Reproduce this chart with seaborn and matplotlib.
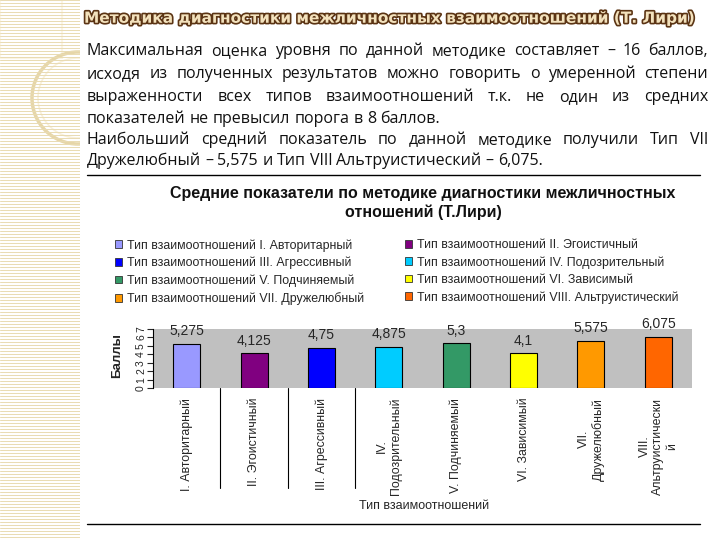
import numpy as np
import pandas as pd
import matplotlib
matplotlib.use('Agg')
import matplotlib.pyplot as plt
import matplotlib.patheffects as pe
import matplotlib.transforms as mtransforms
from matplotlib.font_manager import FontProperties
from matplotlib.lines import Line2D
from matplotlib.patches import Patch, Circle, Rectangle
import seaborn as sns

# slide texts
slide_title = 'Методика диагностики межличностных взаимоотношений (Т. Лири)'
paragraph_lines = [
    'Максимальная оценка уровня по данной методике составляет – 16 баллов,',
    'исходя из полученных результатов можно говорить о умеренной степени',
    'выраженности всех типов взаимоотношений т.к. не один из средних',
    'показателей не превысил порога в 8 баллов.',
    'Наибольший средний показатель по данной методике получили Тип VII',
    'Дружелюбный – 5,575 и Тип VIII Альтруистический – 6,075.',
]
line_justified = [True, True, True, False, True, False]

# chart data
chart_title = 'Средние показатели по методике диагностики межличностных\nотношений (Т.Лири)'
type_labels = ['I. Авторитарный', 'II. Эгоистичный', 'III. Агрессивный',
               'IV.\nПодозрительный', 'V. Подчиняемый', 'VI. Зависимый',
               'VII.\nДружелюбный', 'VIII.\nАльтруистически\nй']
legend_labels = ['Тип взаимоотношений I. Авторитарный',
                 'Тип взаимоотношений II. Эгоистичный',
                 'Тип взаимоотношений III. Агрессивный',
                 'Тип взаимоотношений IV. Подозрительный',
                 'Тип взаимоотношений V. Подчиняемый',
                 'Тип взаимоотношений VI. Зависимый',
                 'Тип взаимоотношений VII. Дружелюбный',
                 'Тип взаимоотношений VIII. Альтруистический']
scores = [5.275, 4.125, 4.75, 4.875, 5.3, 4.1, 5.575, 6.075]
bar_colors = ['#9999ff', '#800080', '#0000ff', '#00ccff',
              '#339966', '#ffff00', '#ff9900', '#ff6600']
y_ticks = [0, 1, 2, 3, 4, 5, 6, 7]

sns.set_style('white')
plt.rcParams['font.family'] = ['Liberation Sans', 'DejaVu Sans']

W, H = 720, 540
fig = plt.figure(figsize=(7.2, 5.4), dpi=100)
fig.patch.set_facecolor('white')

def fx(px):
    return px / W

def fy(py):
    return 1 - py / H

# beige strip on the left
deco = fig.add_axes([0, 0, fx(80), 1])
deco.set_xlim(0, 80)
deco.set_ylim(540, 0)
deco.set_facecolor('#f3e9cd')
for yy in np.arange(0, 540, 3):
    deco.axhline(yy, color='#e9dbb2', lw=0.7)
deco.add_patch(Rectangle((0, 0), 62, 58, fill=False, ec='#fbf5e4', lw=1.5))
deco.add_patch(Circle((78, 98), 46, fill=False, ec='#e6d6a8', lw=2.5))
deco.add_patch(Circle((78, 98), 40, fill=False, ec='#f8f0da', lw=1.2))
deco.axis('off')

renderer = fig.canvas.get_renderer()

def text_width(s, size, family):
    t = fig.text(0, 0, s, fontsize=size, family=family)
    w = t.get_window_extent(renderer).width
    t.remove()
    return w

# slide title, stretched to the reference width
title = fig.text(fx(84), fy(18), slide_title, ha='left', va='center',
                 fontsize=11, fontweight='bold', color='#f3e2bd', family='DejaVu Sans',
                 path_effects=[pe.withStroke(linewidth=2.4, foreground='#5b3414')])
tw = title.get_window_extent(renderer).width
title.set_fontsize(11 * 608 / tw)

# paragraph, one text per word, justified by hand
para_font = 'Open Sans'
para_size = 10 * 352 / text_width(paragraph_lines[3], 10, para_font)
para_prop = FontProperties(family=para_font, size=para_size)
_, lp_h, lp_d = renderer.get_text_width_height_descent('lp', para_prop, ismath=False)
space_w = text_width('a a', para_size, para_font) - text_width('aa', para_size, para_font)
x_left, x_right = 87, 708
line_y = [55, 78, 101, 123, 144, 165]
for line, yy, just in zip(paragraph_lines, line_y, line_justified):
    words = line.split()
    widths = [text_width(w, para_size, para_font) for w in words]
    if just and len(words) > 1:
        gap = (x_right - x_left - sum(widths)) / (len(words) - 1)
    else:
        gap = space_w
    cur = x_left
    for w, wd in zip(words, widths):
        # short words with a low descender get laid out a bit high: push them back
        _, h, d = renderer.get_text_width_height_descent(w, para_prop, ismath=False)
        shift = d - lp_d if (d > lp_d and h < lp_h) else 0
        fig.text(fx(cur), fy(yy + shift), w, fontsize=para_size, family=para_font,
                 va='baseline', ha='left', color='#111111')
        cur += wd + gap

# separator lines
fig.add_artist(Line2D([fx(87), fx(700)], [fy(175), fy(175)], color='black', lw=1))
fig.add_artist(Line2D([fx(87), fx(700)], [fy(524), fy(524)], color='black', lw=1))

# chart title
fig.text(fx(423), fy(203), chart_title, ha='center', va='center',
         fontsize=11.5, fontweight='bold', linespacing=1.3, color='#111111')

# legend, two columns
handles = [Patch(facecolor=c, edgecolor='#333333', lw=0.6, label=l)
           for c, l in zip(bar_colors, legend_labels)]
for col, x0 in ((0, 115), (1, 405)):
    fig.legend(handles=handles[col::2], loc='upper left',
               bbox_to_anchor=(fx(x0), fy(239)), frameon=False, fontsize=8.9,
               handlelength=0.6, handleheight=0.6, handletextpad=0.4,
               labelspacing=0.42, borderpad=0, borderaxespad=0)

# bar chart
ax = fig.add_axes([fx(153), fy(388), fx(692) - fx(153), fy(329) - fy(388)])
df = pd.DataFrame({'type': type_labels, 'score': scores})
sns.barplot(data=df, x='type', y='score', hue='type', palette=bar_colors,
            saturation=1, width=0.4, edgecolor='black', linewidth=0.8,
            legend=False, ax=ax)
ax.set_facecolor('#c0c0c0')
ax.set_ylim(0, 7)
ax.set_yticks(y_ticks)
ax.set_yticklabels([str(t) for t in y_ticks], rotation=90, fontsize=7.5,
                   va='center')
ax.tick_params(axis='y', length=4, width=0.8, pad=1, left=True)
ax.tick_params(axis='x', length=0, pad=7, labelsize=8.9, labelrotation=90)
ax.set_xlabel('')
ax.set_ylabel('')
for s in ('top', 'right', 'bottom'):
    ax.spines[s].set_visible(False)
ax.spines['left'].set_color('black')
ax.spines['left'].set_linewidth(0.8)
ax.set_xlim(-0.5, len(scores) - 0.5)

for cont in ax.containers:
    ax.bar_label(cont, labels=[f'{v:g}'.replace('.', ',') for v in cont.datavalues],
                 padding=4, fontsize=10)

# separator lines under the first categories
trans = mtransforms.blended_transform_factory(ax.transData, ax.transAxes)
for b in (0.5, 1.5, 2.5):
    ax.plot([b, b], [0, -100 / 59], transform=trans, color='black', lw=0.8,
            clip_on=False)

fig.text(fx(117), fy(356), 'Баллы', rotation=90, ha='center', va='center',
         fontsize=9.5, fontweight='bold')
fig.text(fx(424), fy(506), 'Тип взаимоотношений', ha='center', va='center',
         fontsize=9)

fig.savefig('out.png', dpi=100, facecolor='white')
